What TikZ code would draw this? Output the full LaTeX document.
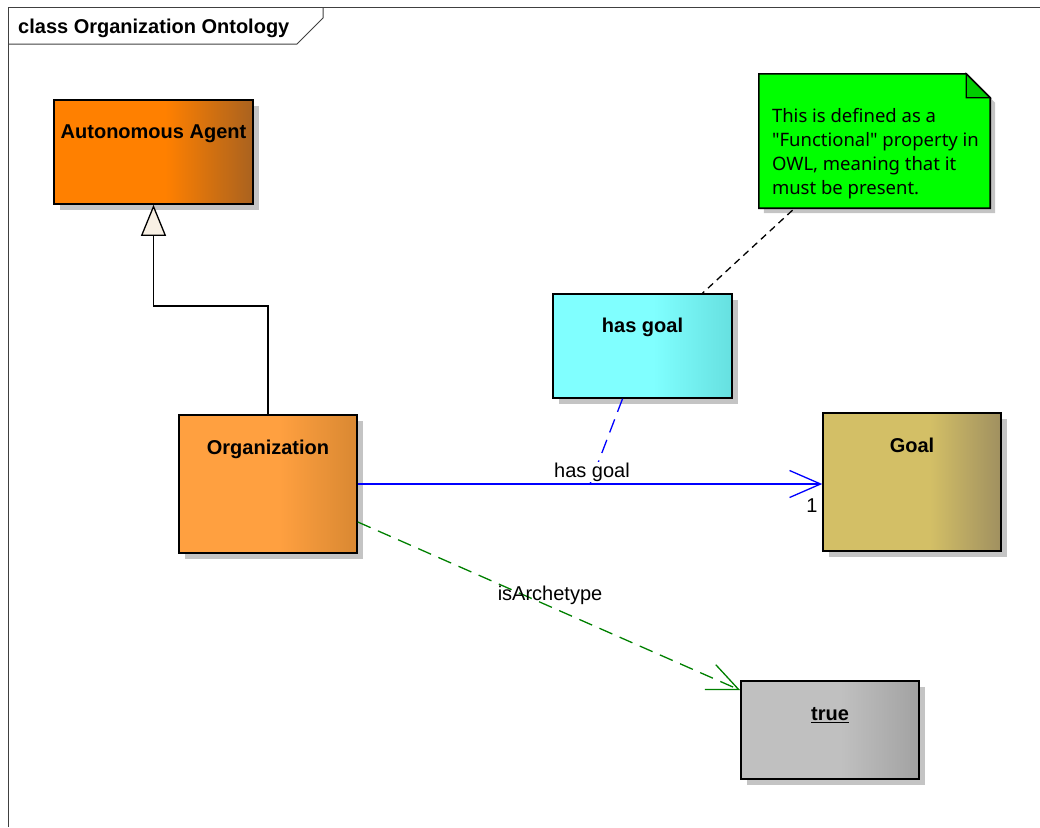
\documentclass[tikz,border=0pt]{standalone}
\usepackage{fontspec}
\setmainfont{Liberation Sans}
\newfontfamily\notefont{Noto Sans}
\usetikzlibrary{arrows.meta,shadows,calc}

% palette
\definecolor{agentL}{HTML}{FF8000}
\definecolor{agentR}{HTML}{A9621F}
\definecolor{orgL}{HTML}{FFA040}
\definecolor{orgR}{HTML}{D98832}
\definecolor{hgL}{HTML}{80FFFF}
\definecolor{hgR}{HTML}{66E0E0}
\definecolor{goalL}{HTML}{D3BF66}
\definecolor{goalR}{HTML}{A09060}
\definecolor{trueL}{HTML}{C0C0C0}
\definecolor{trueR}{HTML}{A2A2A2}
\definecolor{noteG}{HTML}{00FF00}
\definecolor{noteF}{HTML}{00CC00}
\definecolor{shadowgray}{HTML}{C4C4C4}
\definecolor{assocblue}{HTML}{0000FF}
\definecolor{depgreen}{HTML}{008000}
\definecolor{tricream}{HTML}{F8F0E4}
\definecolor{framegray}{HTML}{404040}

% flat colour on the left, darkening towards the right edge
\pgfdeclarehorizontalshading{agentshade}{100bp}{color(0bp)=(agentL); color(53bp)=(agentL); color(75bp)=(agentR); color(100bp)=(agentR)}
\pgfdeclarehorizontalshading{orgshade}{100bp}{color(0bp)=(orgL); color(53bp)=(orgL); color(75bp)=(orgR); color(100bp)=(orgR)}
\pgfdeclarehorizontalshading{hgshade}{100bp}{color(0bp)=(hgL); color(53bp)=(hgL); color(75bp)=(hgR); color(100bp)=(hgR)}
\pgfdeclarehorizontalshading{goalshade}{100bp}{color(0bp)=(goalL); color(55bp)=(goalL); color(75bp)=(goalR); color(100bp)=(goalR)}
\pgfdeclarehorizontalshading{trueshade}{100bp}{color(0bp)=(trueL); color(53bp)=(trueL); color(75bp)=(trueR); color(100bp)=(trueR)}

\tikzset{
  classbox/.style={draw=black, line width=1.6pt, inner sep=0pt, shading=#1,
    drop shadow={shadow xshift=6pt, shadow yshift=-6pt, fill=shadowgray, opacity=1}},
  classname/.style={font=\bfseries\fontsize{20}{24}\selectfont, inner sep=0pt, anchor=base},
  conlabel/.style={font=\fontsize{20}{24}\selectfont, inner sep=1pt},
  frameline/.style={draw=framegray, line width=1pt},
  assoc/.style={draw=assocblue, line width=1.3pt, -{Straight Barb[length=31pt,width=27pt]}},
  assocclass/.style={draw=assocblue, line width=1.3pt, dash pattern=on 14pt off 8pt},
  notelink/.style={draw=black, line width=1.3pt, dash pattern=on 7pt off 5pt},
  dependency/.style={draw=depgreen, line width=1.3pt, dash pattern=on 14pt off 8pt,
    -{Straight Barb[length=31pt,width=27pt]}},
  generalization/.style={draw=black, line width=1.3pt,
    -{Triangle[length=31pt,width=25pt,fill=tricream]}},
}

\begin{document}
\begin{tikzpicture}[x=1pt, y=-1pt]
\useasboundingbox (0,0) rectangle (1040,827);

% diagram frame and its name tab
\draw[frameline] (8,827) -- (8,7) -- (1040,7);
\draw[frameline] (8,44) -- (297,44) -- (323,18) -- (323,7);
\node[classname, anchor=base west] (title) at (18,33) {class Organization Ontology};

% classes
\node[classbox=agentshade, minimum width=199pt, minimum height=104pt] (agent) at (153.5,152) {};
\node[classname] (agentT) at ([yshift=-39.5pt]agent.north) {Autonomous Agent};

\node[classbox=orgshade, minimum width=178pt, minimum height=138pt] (org) at (268,484) {};
\node[classname] (orgT) at ([yshift=-40pt]org.north) {Organization};

\node[classbox=hgshade, minimum width=179pt, minimum height=104pt] (hasgoal) at (642.5,346) {};
\node[classname] (hasgoalT) at ([yshift=-39pt]hasgoal.north) {has goal};

\node[classbox=goalshade, minimum width=178pt, minimum height=138pt] (goal) at (912,482) {};
\node[classname] (goalT) at ([yshift=-40pt]goal.north) {Goal};

\node[classbox=trueshade, minimum width=178pt, minimum height=98pt] (true) at (830,730) {};
\node[classname] (trueT) at ([yshift=-40.5pt]true.north) {\underline{true}};

% note with folded corner
\node[minimum width=231pt, minimum height=134pt, inner sep=0pt] (note) at (874.5,141) {};
\fill[shadowgray] ([shift={(5pt,-5pt)}]note.north west) -- ([shift={(-19pt,-5pt)}]note.north east)
  -- ([shift={(5pt,-29pt)}]note.north east) -- ([shift={(5pt,-5pt)}]note.south east)
  -- ([shift={(5pt,-5pt)}]note.south west) -- cycle;
\filldraw[fill=noteG, draw=black, line width=1.6pt] (note.north west) -- ([xshift=-24pt]note.north east)
  -- ([yshift=-24pt]note.north east) -- (note.south east) -- (note.south west) -- cycle;
\filldraw[fill=noteF, draw=black, line width=1.3pt] ([xshift=-24pt]note.north east)
  -- ([xshift=-24pt,yshift=-24pt]note.north east) -- ([yshift=-24pt]note.north east) -- cycle;
\node[anchor=north west, align=left, inner sep=0pt, font=\notefont\fontsize{18.5}{24}\selectfont]
  (noteT) at ([shift={(13pt,-34pt)}]note.north west)
  {This is defined as a\\"Functional" property in\\OWL, meaning that it\\must be present.};

% generalization
\draw[generalization] (org.north) -- (org.north |- 0,306) -- (agent.south |- 0,306) -- (agent.south);

% association with its association class
\path (org.east) -- (goal.west |- org.east) coordinate[midway] (assocmid);
\draw[assocclass] ([xshift=-20pt]hasgoal.south) -- (assocmid);
\node[conlabel, fill=white, anchor=base] (assocT) at ([xshift=2pt,yshift=7pt]assocmid) {has goal};
\draw[assoc] (org.east) -- (goal.west |- org.east);
\node[conlabel] (multT) at (812,506) {1};

% note link
\draw[notelink] ([xshift=-82pt,yshift=-2pt]note.south) -- ([xshift=60pt]hasgoal.north);

% dependency
\draw[dependency] ([yshift=-38pt]org.east) -- ([yshift=-10pt]true.north west)
  node[conlabel, pos=0.5, anchor=base, xshift=1pt, yshift=6pt] (depT) {isArchetype};
\end{tikzpicture}
\end{document}
